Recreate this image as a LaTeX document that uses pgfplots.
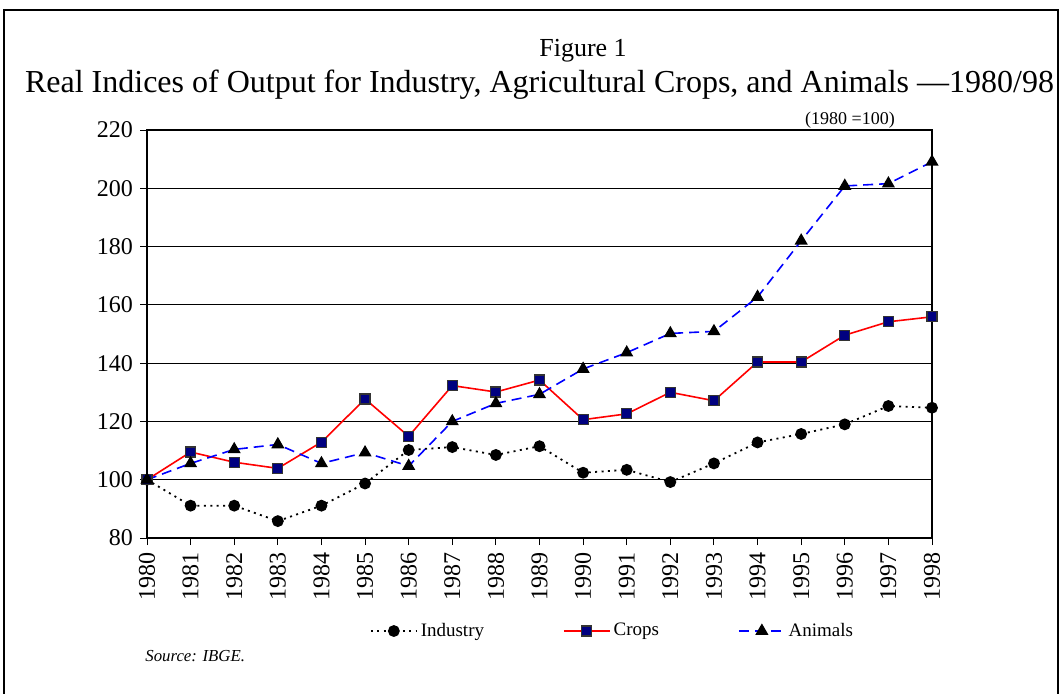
\documentclass[border=0pt]{standalone}
\usepackage{fontspec}
\setmainfont{Liberation Serif}
\usepackage{pgfplots}
\pgfplotsset{compat=1.18}
\definecolor{navy}{RGB}{0,0,128}
\pgfplotstableread{
year ind crops anim
1980 100 100 100
1981 91.1 109.5 105.6
1982 91.1 106.0 110.4
1983 85.8 103.9 112.1
1984 91.1 112.9 105.6
1985 98.7 127.7 109.3
1986 110.2 114.9 104.7
1987 111.2 132.3 120.0
1988 108.5 130.1 126.2
1989 111.5 134.2 129.3
1990 102.4 120.6 138.0
1991 103.4 122.6 143.6
1992 99.2 130.0 150.2
1993 105.6 127.1 150.9
1994 112.8 140.4 162.7
1995 115.7 140.4 182.0
1996 119.0 149.6 200.8
1997 125.3 154.2 201.6
1998 124.7 155.9 209.1
}\datatable
\begin{document}
\begin{tikzpicture}[x=1pt,y=1pt]
\useasboundingbox (-73.5,-77.5) rectangle (458,269);
\draw[line width=0.6pt] (-71.5,-90) -- (-71.5,264) -- (455.5,264) -- (455.5,-90);
\node[anchor=base,font=\fontsize{13}{13}\selectfont] at (218,241) {Figure 1};
\node[anchor=base,font=\fontsize{16}{16}\selectfont] at (196.25,223) {Real Indices of Output for Industry, Agricultural Crops, and Animals ---1980/98};
\node[anchor=base,font=\fontsize{9}{9}\selectfont] at (351.5,207) {(1980 =100)};
\node[anchor=base west,font=\fontsize{8.4}{8.4}\selectfont\itshape,inner sep=0pt] at (-1,-61.5) {Source: IBGE.};
\begin{axis}[at={(0,0)}, anchor=south west, scale only axis,
  width=392.5pt, height=204pt,
  xmin=1980, xmax=1998, ymin=80, ymax=220,
  ytick={80,100,...,220}, xtick={1980,1981,...,1998},
  ymajorgrids, grid style={black, line width=0.5pt},
  tick align=outside, tick style={black, line width=0.5pt}, major tick length=3.5pt,
  xtick pos=bottom, ytick pos=left,
  xticklabel style={rotate=90, anchor=east, font=\fontsize{12}{12}\selectfont},
  yticklabel style={font=\fontsize{12}{12}\selectfont},
  /pgf/number format/1000 sep={}, /pgf/number format/assume math mode=true,
  axis line style={line width=1pt},
  clip=false,
  legend columns=3,
  legend style={draw=none, at={(233pt,-46.5pt)}, anchor=center,
    font=\fontsize{9.5}{9.5}\selectfont,
    nodes={inner sep=1.5pt},
    /tikz/every even column/.append style={column sep=38pt}},
  legend image code/.code={\draw[mark repeat=2,mark phase=2,#1] plot coordinates {(0pt,0pt) (11.5pt,0pt) (23pt,0pt)};},
]
\addplot[black, dash pattern=on 1pt off 2.2pt, line width=0.9pt, mark=*, mark size=2.5pt, mark options={solid, fill=black}] table[x=year,y=ind] {\datatable};
\addlegendentry{Industry}
\addplot[red, solid, line width=0.8pt, mark=square*, mark size=2.5pt, mark options={solid, fill=navy, draw=black!80, line width=0.6pt}] table[x=year,y=crops] {\datatable};
\addlegendentry{Crops}
\addplot[blue, dash pattern=on 5pt off 3pt, line width=0.8pt, mark=triangle*, mark size=3pt, mark options={solid, fill=black, draw=black}] table[x=year,y=anim] {\datatable};
\addlegendentry{Animals}
\end{axis}
\end{tikzpicture}
\end{document}
